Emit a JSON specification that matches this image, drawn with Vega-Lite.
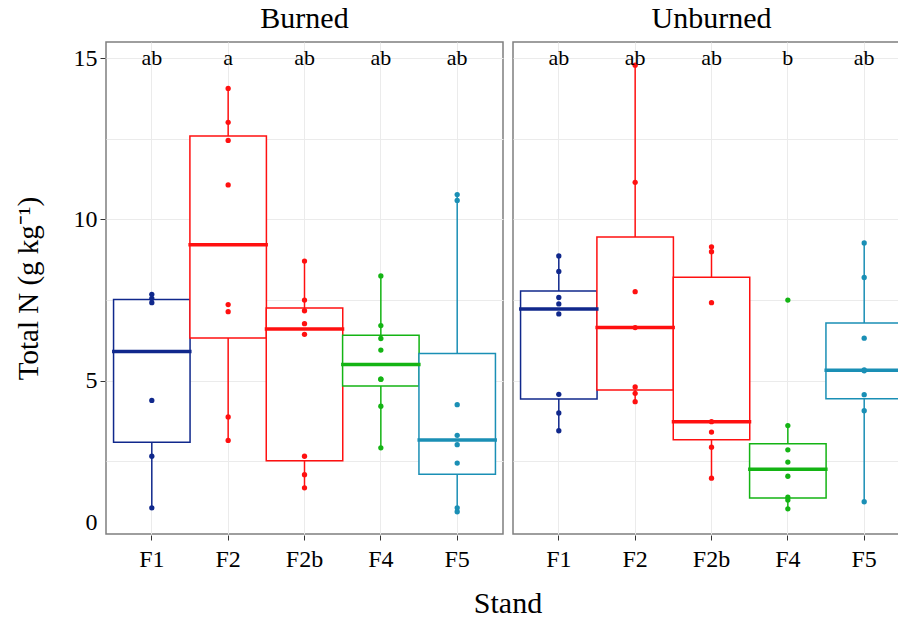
{
  "$schema": "https://vega.github.io/schema/vega-lite/v6.json",
  "padding": {"left": 14, "top": 4, "right": 0, "bottom": 0},
  "background": "white",
  "data": {"values": [
    {"Treatment": "Burned", "Stand": "F1", "N": 1.06},
    {"Treatment": "Burned", "Stand": "F1", "N": 2.66},
    {"Treatment": "Burned", "Stand": "F1", "N": 4.39},
    {"Treatment": "Burned", "Stand": "F1", "N": 7.42},
    {"Treatment": "Burned", "Stand": "F1", "N": 7.55},
    {"Treatment": "Burned", "Stand": "F1", "N": 7.68},
    {"Treatment": "Burned", "Stand": "F2", "N": 3.15},
    {"Treatment": "Burned", "Stand": "F2", "N": 3.88},
    {"Treatment": "Burned", "Stand": "F2", "N": 7.14},
    {"Treatment": "Burned", "Stand": "F2", "N": 7.36},
    {"Treatment": "Burned", "Stand": "F2", "N": 11.07},
    {"Treatment": "Burned", "Stand": "F2", "N": 12.45},
    {"Treatment": "Burned", "Stand": "F2", "N": 13.01},
    {"Treatment": "Burned", "Stand": "F2", "N": 14.06},
    {"Treatment": "Burned", "Stand": "F2b", "N": 1.68},
    {"Treatment": "Burned", "Stand": "F2b", "N": 2.09},
    {"Treatment": "Burned", "Stand": "F2b", "N": 2.66},
    {"Treatment": "Burned", "Stand": "F2b", "N": 6.44},
    {"Treatment": "Burned", "Stand": "F2b", "N": 6.77},
    {"Treatment": "Burned", "Stand": "F2b", "N": 7.17},
    {"Treatment": "Burned", "Stand": "F2b", "N": 7.50},
    {"Treatment": "Burned", "Stand": "F2b", "N": 8.71},
    {"Treatment": "Burned", "Stand": "F4", "N": 2.92},
    {"Treatment": "Burned", "Stand": "F4", "N": 4.21},
    {"Treatment": "Burned", "Stand": "F4", "N": 5.05},
    {"Treatment": "Burned", "Stand": "F4", "N": 5.05},
    {"Treatment": "Burned", "Stand": "F4", "N": 5.95},
    {"Treatment": "Burned", "Stand": "F4", "N": 6.31},
    {"Treatment": "Burned", "Stand": "F4", "N": 6.71},
    {"Treatment": "Burned", "Stand": "F4", "N": 8.25},
    {"Treatment": "Burned", "Stand": "F5", "N": 0.94},
    {"Treatment": "Burned", "Stand": "F5", "N": 1.06},
    {"Treatment": "Burned", "Stand": "F5", "N": 2.45},
    {"Treatment": "Burned", "Stand": "F5", "N": 3.02},
    {"Treatment": "Burned", "Stand": "F5", "N": 3.31},
    {"Treatment": "Burned", "Stand": "F5", "N": 4.26},
    {"Treatment": "Burned", "Stand": "F5", "N": 10.59},
    {"Treatment": "Burned", "Stand": "F5", "N": 10.77},
    {"Treatment": "Unburned", "Stand": "F1", "N": 3.45},
    {"Treatment": "Unburned", "Stand": "F1", "N": 4.00},
    {"Treatment": "Unburned", "Stand": "F1", "N": 4.58},
    {"Treatment": "Unburned", "Stand": "F1", "N": 7.07},
    {"Treatment": "Unburned", "Stand": "F1", "N": 7.38},
    {"Treatment": "Unburned", "Stand": "F1", "N": 7.58},
    {"Treatment": "Unburned", "Stand": "F1", "N": 8.39},
    {"Treatment": "Unburned", "Stand": "F1", "N": 8.87},
    {"Treatment": "Unburned", "Stand": "F2", "N": 4.35},
    {"Treatment": "Unburned", "Stand": "F2", "N": 4.61},
    {"Treatment": "Unburned", "Stand": "F2", "N": 4.81},
    {"Treatment": "Unburned", "Stand": "F2", "N": 6.65},
    {"Treatment": "Unburned", "Stand": "F2", "N": 7.76},
    {"Treatment": "Unburned", "Stand": "F2", "N": 11.15},
    {"Treatment": "Unburned", "Stand": "F2", "N": 14.78},
    {"Treatment": "Unburned", "Stand": "F2b", "N": 1.98},
    {"Treatment": "Unburned", "Stand": "F2b", "N": 2.94},
    {"Treatment": "Unburned", "Stand": "F2b", "N": 3.41},
    {"Treatment": "Unburned", "Stand": "F2b", "N": 3.73},
    {"Treatment": "Unburned", "Stand": "F2b", "N": 7.42},
    {"Treatment": "Unburned", "Stand": "F2b", "N": 9.00},
    {"Treatment": "Unburned", "Stand": "F2b", "N": 9.15},
    {"Treatment": "Unburned", "Stand": "F4", "N": 1.03},
    {"Treatment": "Unburned", "Stand": "F4", "N": 1.30},
    {"Treatment": "Unburned", "Stand": "F4", "N": 1.39},
    {"Treatment": "Unburned", "Stand": "F4", "N": 2.04},
    {"Treatment": "Unburned", "Stand": "F4", "N": 2.48},
    {"Treatment": "Unburned", "Stand": "F4", "N": 2.86},
    {"Treatment": "Unburned", "Stand": "F4", "N": 3.61},
    {"Treatment": "Unburned", "Stand": "F4", "N": 7.50},
    {"Treatment": "Unburned", "Stand": "F5", "N": 1.25},
    {"Treatment": "Unburned", "Stand": "F5", "N": 4.07},
    {"Treatment": "Unburned", "Stand": "F5", "N": 4.57},
    {"Treatment": "Unburned", "Stand": "F5", "N": 5.31},
    {"Treatment": "Unburned", "Stand": "F5", "N": 5.34},
    {"Treatment": "Unburned", "Stand": "F5", "N": 6.32},
    {"Treatment": "Unburned", "Stand": "F5", "N": 8.20},
    {"Treatment": "Unburned", "Stand": "F5", "N": 9.27},
    {"Treatment": "Burned", "Stand": "F1", "Letter": "ab"},
    {"Treatment": "Burned", "Stand": "F2", "Letter": "a"},
    {"Treatment": "Burned", "Stand": "F2b", "Letter": "ab"},
    {"Treatment": "Burned", "Stand": "F4", "Letter": "ab"},
    {"Treatment": "Burned", "Stand": "F5", "Letter": "ab"},
    {"Treatment": "Unburned", "Stand": "F1", "Letter": "ab"},
    {"Treatment": "Unburned", "Stand": "F2", "Letter": "ab"},
    {"Treatment": "Unburned", "Stand": "F2b", "Letter": "ab"},
    {"Treatment": "Unburned", "Stand": "F4", "Letter": "b"},
    {"Treatment": "Unburned", "Stand": "F5", "Letter": "ab"}
  ]},
  "facet": {
    "column": {
      "field": "Treatment", "type": "nominal", "sort": ["Burned", "Unburned"],
      "title": "Stand",
      "header": {"titleOrient": "bottom", "labelOrient": "top",
                 "titleFont": "Liberation Serif", "titleFontSize": 30, "titleFontWeight": "normal", "titleColor": "black", "titlePadding": 8,
                 "labelFont": "Liberation Serif", "labelFontSize": 30, "labelColor": "black", "labelPadding": 7}
    }
  },
  "spacing": 8,
  "spec": {
    "width": 397,
    "height": 492,
    "encoding": {
      "x": {
        "field": "Stand", "type": "nominal", "sort": ["F1", "F2", "F2b", "F4", "F5"],
        "scale": {"paddingInner": 0, "paddingOuter": 0.1},
        "title": null,
        "axis": {"labelAngle": 0, "grid": true, "bandPosition": 0.5, "gridColor": "#EBEBEB", "domain": false,
                 "tickColor": "#333333", "tickSize": 5, "labelPadding": 7}
      }
    },
    "layer": [
      {
        "transform": [{"filter": "isValid(datum.N)"}],
        "mark": {"type": "boxplot", "extent": 1.5, "size": 76.5, "outliers": false,
                 "box": {"fill": "white", "strokeWidth": 1.5},
                 "median": {"filled": false, "strokeWidth": 3, "thickness": 0.5, "opacity": 1, "strokeOpacity": 1},
                 "rule": {"strokeWidth": 1.5}},
        "encoding": {
          "y": {"field": "N", "type": "quantitative", "title": "Total N (g  kg⁻¹)",
                "scale": {"domain": [0.25, 15.5], "nice": false, "zero": false},
                "axis": {"values": [0.6, 2.5, 5, 7.5, 10, 12.5, 15],
                         "labelExpr": "datum.value < 1 ? '0' : (datum.value % 5 == 0 ? datum.label : '')",
                         "gridColor": {"condition": {"test": "datum.value < 1", "value": "transparent"}, "value": "#EBEBEB"},
                         "tickColor": {"condition": {"test": "datum.value > 1 && datum.value % 5 == 0", "value": "#333333"}, "value": "transparent"},
                         "domain": false, "tickSize": 5, "labelPadding": 3, "titlePadding": 30}},
          "stroke": {"field": "Stand", "type": "nominal",
                     "scale": {"domain": ["F1", "F2", "F2b", "F4", "F5"], "range": ["#10288C", "#FF1010", "#FF1010", "#14B414", "#1A8FB5"]},
                     "legend": null}
        }
      },
      {
        "transform": [{"filter": "isValid(datum.N)"}],
        "mark": {"type": "point", "filled": true, "size": 28, "opacity": 1},
        "encoding": {
          "y": {"field": "N", "type": "quantitative", "title": "Total N (g  kg⁻¹)"},
          "color": {"field": "Stand", "type": "nominal",
                    "scale": {"domain": ["F1", "F2", "F2b", "F4", "F5"], "range": ["#10288C", "#FF1010", "#FF1010", "#14B414", "#1A8FB5"]},
                    "legend": null}
        }
      },
      {
        "transform": [{"filter": "isValid(datum.Letter)"}],
        "mark": {"type": "text", "font": "Liberation Serif", "fontSize": 22, "baseline": "middle", "color": "black"},
        "encoding": {
          "y": {"datum": 15, "type": "quantitative"},
          "text": {"field": "Letter", "type": "nominal"}
        }
      }
    ]
  },
  "config": {
    "font": "Liberation Serif",
    "view": {"stroke": "#7F7F7F", "strokeWidth": 1.5},
    "axis": {"labelFont": "Liberation Serif", "labelFontSize": 24, "labelColor": "black",
             "titleFont": "Liberation Serif", "titleFontSize": 29, "titleColor": "black", "titleFontWeight": "normal"}
  }
}
